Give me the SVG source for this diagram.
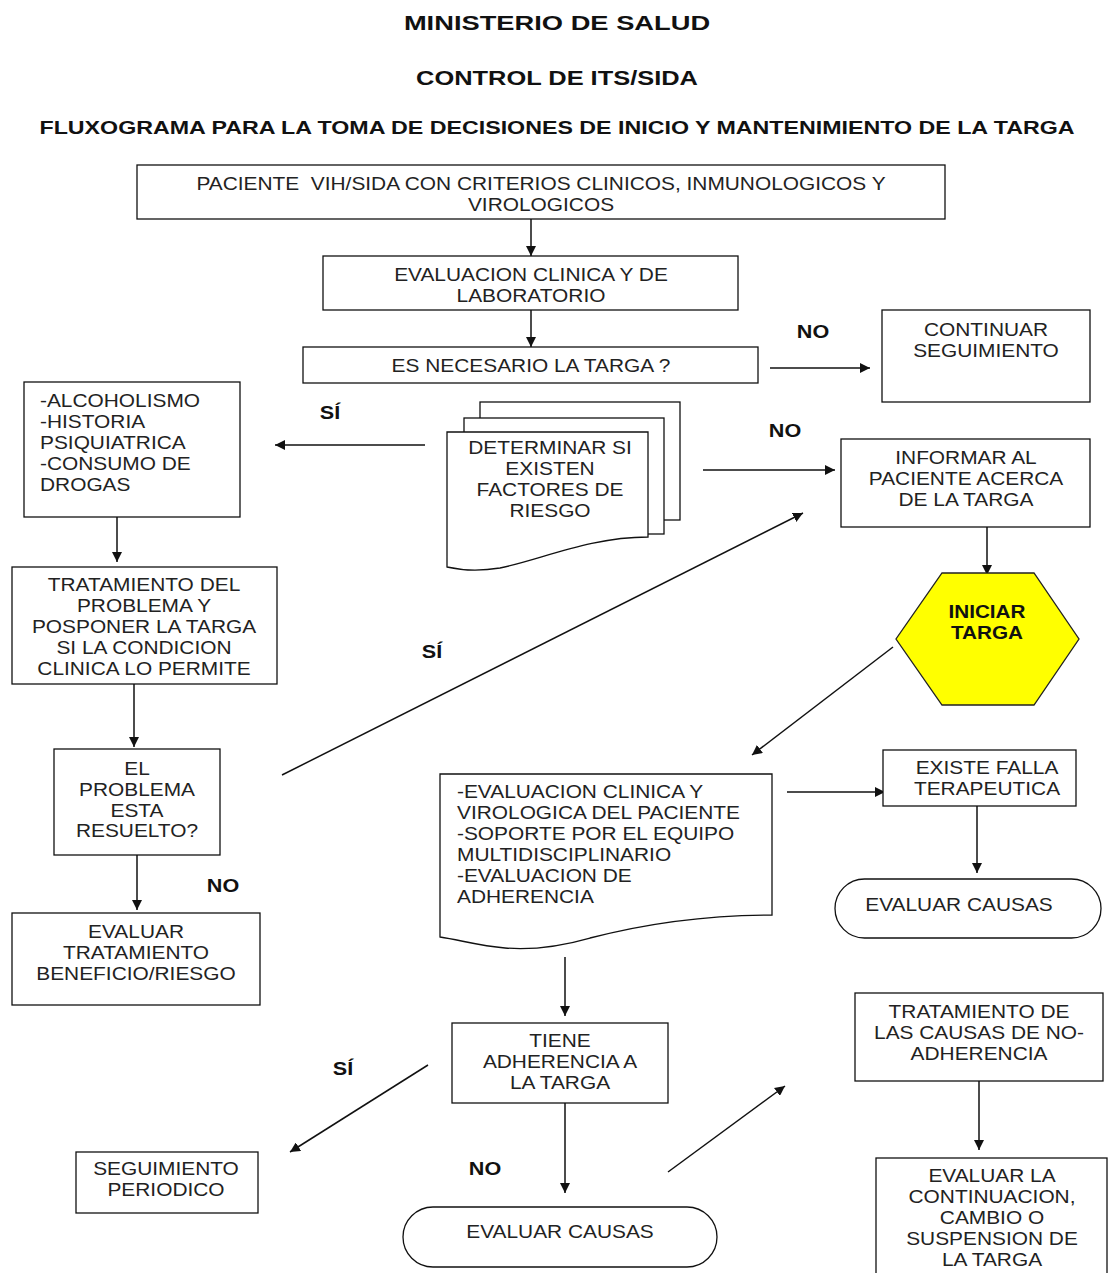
<svg xmlns="http://www.w3.org/2000/svg" width="1109" height="1273" viewBox="0 0 1109 1273">
  <style>
    .t { font-family: "Liberation Sans", Arial, sans-serif; font-size: 18px; fill: #222; text-anchor: middle; }
    .l { text-anchor: start; }
    .h { font-family: "Liberation Sans", Arial, sans-serif; font-weight: bold; fill: #111; text-anchor: middle; }
    .lab { font-family: "Liberation Sans", Arial, sans-serif; font-weight: bold; font-size: 18px; fill: #111; text-anchor: middle; }
    .box { fill: #fff; stroke: #111; stroke-width: 1.3; }
    .ln { fill: none; stroke: #111; stroke-width: 1.5; marker-end: url(#ah); }
  </style>
  <defs>
    <marker id="ah" viewBox="0 0 10 10" refX="10" refY="5" markerWidth="10" markerHeight="10" markerUnits="userSpaceOnUse" orient="auto">
      <path d="M0,0 L10,5 L0,10 z" fill="#111"/>
    </marker>
  </defs>
  <rect width="1109" height="1273" fill="#fff"/>

  <!-- headings (wide lettering via horizontal scale) -->
  <g id="titles">
    <g transform="translate(557,0) scale(1.3,1)"><text class="h" x="0" y="30" font-size="21">MINISTERIO DE SALUD</text></g>
    <g transform="translate(557,0) scale(1.27,1)"><text class="h" x="0" y="85" font-size="20">CONTROL DE ITS/SIDA</text></g>
    <g transform="translate(557,0) scale(1.29,1)"><text class="h" x="0" y="134" font-size="18">FLUXOGRAMA PARA LA TOMA DE DECISIONES DE INICIO Y MANTENIMIENTO DE LA TARGA</text></g>
  </g>

  <!-- connectors -->
  <g id="connectors">
    <line class="ln" x1="531" y1="219" x2="531" y2="256"/>
    <line class="ln" x1="531" y1="310" x2="531" y2="347"/>
    <line class="ln" x1="770" y1="368" x2="870" y2="368"/>
    <line class="ln" x1="425" y1="445" x2="275" y2="445"/>
    <line class="ln" x1="703" y1="470" x2="835" y2="470"/>
    <line class="ln" x1="117" y1="517" x2="117" y2="562"/>
    <line class="ln" x1="134" y1="684" x2="134" y2="747"/>
    <line class="ln" x1="282" y1="775" x2="803" y2="513"/>
    <line class="ln" x1="137" y1="855" x2="137" y2="910"/>
    <line class="ln" x1="987" y1="527" x2="987" y2="575"/>
    <line class="ln" x1="893" y1="647" x2="752" y2="755"/>
    <line class="ln" x1="787" y1="792" x2="885" y2="792"/>
    <line class="ln" x1="977" y1="806" x2="977" y2="873"/>
    <line class="ln" x1="565" y1="957" x2="565" y2="1016"/>
    <line class="ln" x1="428" y1="1065" x2="290" y2="1152"/>
    <line class="ln" x1="565" y1="1103" x2="565" y2="1193"/>
    <line class="ln" x1="668" y1="1172" x2="785" y2="1086"/>
    <line class="ln" x1="979" y1="1081" x2="979" y2="1150"/>
  </g>

  <!-- branch labels -->
  <g id="labels">
    <g transform="translate(813,0) scale(1.2,1)"><text class="lab" x="0" y="338">NO</text></g>
    <g transform="translate(330,0) scale(1.2,1)"><text class="lab" x="0" y="419">SÍ</text></g>
    <g transform="translate(785,0) scale(1.2,1)"><text class="lab" x="0" y="437">NO</text></g>
    <g transform="translate(432,0) scale(1.2,1)"><text class="lab" x="0" y="658">SÍ</text></g>
    <g transform="translate(223,0) scale(1.2,1)"><text class="lab" x="0" y="892">NO</text></g>
    <g transform="translate(343,0) scale(1.2,1)"><text class="lab" x="0" y="1075">SÍ</text></g>
    <g transform="translate(485,0) scale(1.2,1)"><text class="lab" x="0" y="1175">NO</text></g>
  </g>

  <g id="paciente">
    <rect class="box" x="137" y="165" width="808" height="54"/>
    <g transform="translate(541,0) scale(1.16,1)">
      <text class="t" x="0" y="190" xml:space="preserve">PACIENTE  VIH/SIDA CON CRITERIOS CLINICOS, INMUNOLOGICOS Y</text>
      <text class="t" x="0" y="211">VIROLOGICOS</text>
    </g>
  </g>

  <g id="evaluacion">
    <rect class="box" x="323" y="256" width="415" height="54"/>
    <g transform="translate(531,0) scale(1.16,1)">
      <text class="t" x="0" y="281">EVALUACION CLINICA Y DE</text>
      <text class="t" x="0" y="302">LABORATORIO</text>
    </g>
  </g>

  <g id="necesario">
    <rect class="box" x="303" y="347" width="455" height="36"/>
    <g transform="translate(531,0) scale(1.16,1)">
      <text class="t" x="0" y="372">ES NECESARIO LA TARGA ?</text>
    </g>
  </g>

  <g id="continuar">
    <rect class="box" x="882" y="310" width="208" height="92"/>
    <g transform="translate(986,0) scale(1.16,1)">
      <text class="t" x="0" y="336">CONTINUAR</text>
      <text class="t" x="0" y="357">SEGUIMIENTO</text>
    </g>
  </g>

  <g id="factores">
    <rect class="box" x="480" y="402" width="200" height="118"/>
    <rect class="box" x="464" y="418" width="200" height="116"/>
    <path class="box" d="M447,432 H648 V537 C590,537 540,560 500,568 C475,572 460,570 447,567 Z"/>
    <g transform="translate(550,0) scale(1.16,1)">
      <text class="t" x="0" y="454">DETERMINAR SI</text>
      <text class="t" x="0" y="475">EXISTEN</text>
      <text class="t" x="0" y="496">FACTORES DE</text>
      <text class="t" x="0" y="517">RIESGO</text>
    </g>
  </g>

  <g id="riesgos">
    <rect class="box" x="24" y="382" width="216" height="135"/>
    <g transform="translate(40,0) scale(1.16,1)">
      <text class="t l" x="0" y="407">-ALCOHOLISMO</text>
      <text class="t l" x="0" y="428">-HISTORIA</text>
      <text class="t l" x="0" y="449">PSIQUIATRICA</text>
      <text class="t l" x="0" y="470">-CONSUMO DE</text>
      <text class="t l" x="0" y="491">DROGAS</text>
    </g>
  </g>

  <g id="tratamiento">
    <rect class="box" x="12" y="567" width="265" height="117"/>
    <g transform="translate(144,0) scale(1.16,1)">
      <text class="t" x="0" y="591">TRATAMIENTO DEL</text>
      <text class="t" x="0" y="612">PROBLEMA Y</text>
      <text class="t" x="0" y="633">POSPONER LA TARGA</text>
      <text class="t" x="0" y="654">SI LA CONDICION</text>
      <text class="t" x="0" y="675">CLINICA LO PERMITE</text>
    </g>
  </g>

  <g id="resuelto">
    <rect class="box" x="54" y="749" width="166" height="106"/>
    <g transform="translate(137,0) scale(1.16,1)">
      <text class="t" x="0" y="775">EL</text>
      <text class="t" x="0" y="796">PROBLEMA</text>
      <text class="t" x="0" y="817">ESTA</text>
      <text class="t" x="0" y="837">RESUELTO?</text>
    </g>
  </g>

  <g id="beneficio">
    <rect class="box" x="12" y="913" width="248" height="92"/>
    <g transform="translate(136,0) scale(1.16,1)">
      <text class="t" x="0" y="938">EVALUAR</text>
      <text class="t" x="0" y="959">TRATAMIENTO</text>
      <text class="t" x="0" y="980">BENEFICIO/RIESGO</text>
    </g>
  </g>

  <g id="informar">
    <rect class="box" x="841" y="439" width="249" height="88"/>
    <g transform="translate(966,0) scale(1.16,1)">
      <text class="t" x="0" y="464">INFORMAR AL</text>
      <text class="t" x="0" y="485">PACIENTE ACERCA</text>
      <text class="t" x="0" y="506">DE LA TARGA</text>
    </g>
  </g>

  <g id="iniciar">
    <polygon points="942,573 1034,573 1079,639 1034,705 942,705 896,639" fill="#ffff00" stroke="#222" stroke-width="1.3"/>
    <g transform="translate(987,0) scale(1.15,1)">
      <text class="lab" x="0" y="618">INICIAR</text>
      <text class="lab" x="0" y="639">TARGA</text>
    </g>
  </g>

  <g id="seguimiento-equipo">
    <path class="box" d="M440,774 H772 V915 C700,915 640,925 590,938 C555,948 530,950 505,948 C480,946 460,940 440,937 Z"/>
    <g transform="translate(457,0) scale(1.16,1)">
      <text class="t l" x="0" y="798">-EVALUACION CLINICA Y</text>
      <text class="t l" x="0" y="819">VIROLOGICA DEL PACIENTE</text>
      <text class="t l" x="0" y="840">-SOPORTE POR EL EQUIPO</text>
      <text class="t l" x="0" y="861">MULTIDISCIPLINARIO</text>
      <text class="t l" x="0" y="882">-EVALUACION DE</text>
      <text class="t l" x="0" y="903">ADHERENCIA</text>
    </g>
  </g>

  <g id="falla">
    <rect class="box" x="883" y="750" width="193" height="56"/>
    <g transform="translate(987,0) scale(1.16,1)">
      <text class="t" x="0" y="774">EXISTE FALLA</text>
      <text class="t" x="0" y="795">TERAPEUTICA</text>
    </g>
  </g>

  <g id="causas-falla">
    <rect class="box" x="835" y="879" width="266" height="59" rx="29.5" ry="29.5"/>
    <g transform="translate(959,0) scale(1.16,1)">
      <text class="t" x="0" y="911">EVALUAR CAUSAS</text>
    </g>
  </g>

  <g id="adherencia">
    <rect class="box" x="452" y="1023" width="216" height="80"/>
    <g transform="translate(560,0) scale(1.16,1)">
      <text class="t" x="0" y="1047">TIENE</text>
      <text class="t" x="0" y="1068">ADHERENCIA A</text>
      <text class="t" x="0" y="1089">LA TARGA</text>
    </g>
  </g>

  <g id="periodico">
    <rect class="box" x="76" y="1152" width="182" height="61"/>
    <g transform="translate(166,0) scale(1.16,1)">
      <text class="t" x="0" y="1175">SEGUIMIENTO</text>
      <text class="t" x="0" y="1196">PERIODICO</text>
    </g>
  </g>

  <g id="causas-adherencia">
    <rect class="box" x="403" y="1207" width="314" height="60" rx="30" ry="30"/>
    <g transform="translate(560,0) scale(1.16,1)">
      <text class="t" x="0" y="1238">EVALUAR CAUSAS</text>
    </g>
  </g>

  <g id="no-adherencia">
    <rect class="box" x="855" y="993" width="248" height="88"/>
    <g transform="translate(979,0) scale(1.16,1)">
      <text class="t" x="0" y="1018">TRATAMIENTO DE</text>
      <text class="t" x="0" y="1039">LAS CAUSAS DE NO-</text>
      <text class="t" x="0" y="1060">ADHERENCIA</text>
    </g>
  </g>

  <g id="continuacion">
    <rect class="box" x="876" y="1158" width="231" height="130"/>
    <g transform="translate(992,0) scale(1.16,1)">
      <text class="t" x="0" y="1182">EVALUAR LA</text>
      <text class="t" x="0" y="1203">CONTINUACION,</text>
      <text class="t" x="0" y="1224">CAMBIO O</text>
      <text class="t" x="0" y="1245">SUSPENSION DE</text>
      <text class="t" x="0" y="1266">LA TARGA</text>
    </g>
  </g>
</svg>
